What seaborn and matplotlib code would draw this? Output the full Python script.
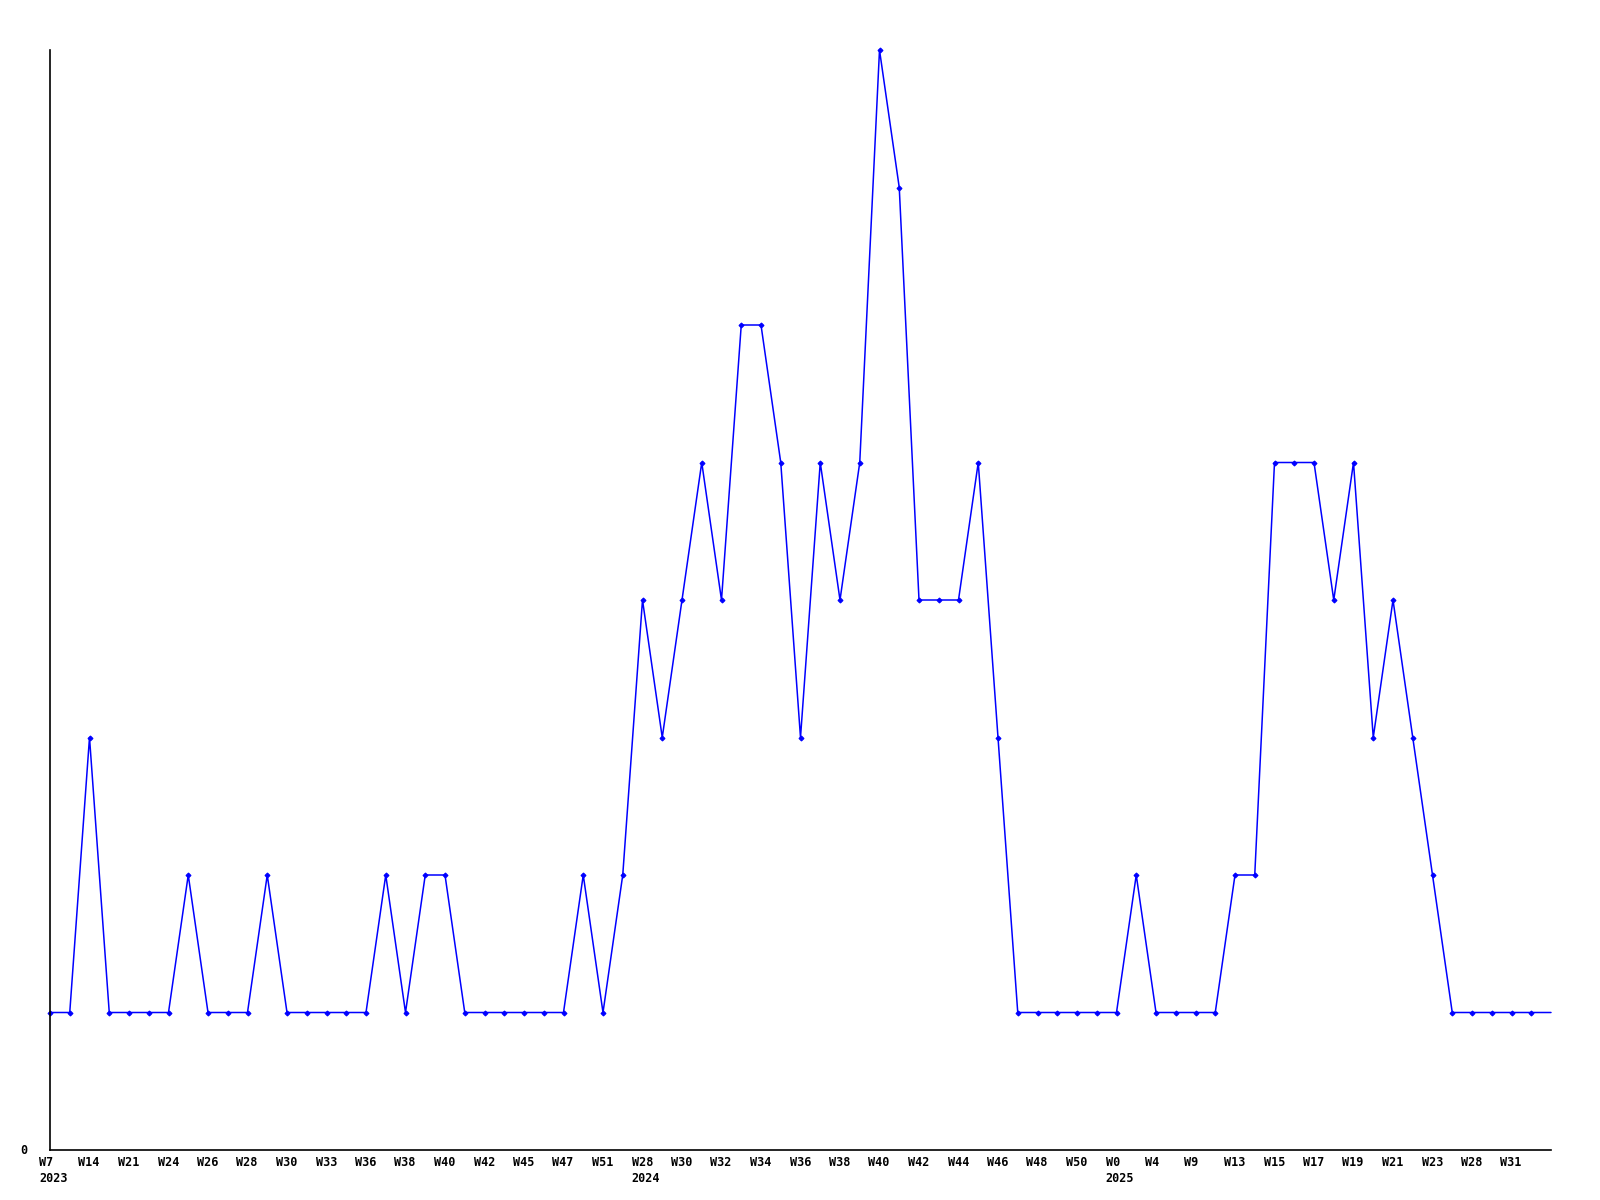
import numpy as np
import pandas as pd
import seaborn as sns
import matplotlib.pyplot as plt

# --- dados: contagem semanal ---
valores = [
    1, 1, 3, 1, 1, 1, 1, 2, 1, 1, 1, 2, 1, 1, 1, 1, 1, 2, 1, 2,
    2, 1, 1, 1, 1, 1, 1, 2, 1, 2, 4, 3, 4, 5, 4, 6, 6, 5, 3, 5,
    4, 5, 8, 7, 4, 4, 4, 5, 3, 1, 1, 1, 1, 1, 1, 2, 1, 1, 1, 1,
    2, 2, 5, 5, 5, 4, 5, 3, 4, 3, 2, 1, 1, 1, 1, 1, 1,
]
semanas_rotulo = [
    "W7", "W14", "W21", "W24", "W26", "W28", "W30", "W33", "W36", "W38",
    "W40", "W42", "W45", "W47", "W51", "W28", "W30", "W32", "W34", "W36",
    "W38", "W40", "W42", "W44", "W46", "W48", "W50", "W0", "W4", "W9",
    "W13", "W15", "W17", "W19", "W21", "W23", "W28", "W31",
]
anos = {0: "2023", 15: "2024", 27: "2025"}  # indice do rotulo -> ano

df = pd.DataFrame({"idx": np.arange(len(valores)), "valor": valores})

sns.set_style("white")
plt.rcParams["font.family"] = ["DejaVu Sans Mono"]

fig = plt.figure(figsize=(16, 12), dpi=100)
ax = fig.add_axes([50 / 1600, 50 / 1200, 1501 / 1600, 1100 / 1200])

sns.lineplot(data=df, x="idx", y="valor", ax=ax, color="#0000ff", linewidth=1.1,
             marker="D", markersize=2.5, markeredgewidth=0.8, markeredgecolor="#0000ff",
             markevery=list(range(len(valores) - 1)), clip_on=False)

ax.set_xlim(0, len(valores) - 1)
ax.set_ylim(0, 8)
ax.set_xlabel("")
ax.set_ylabel("")
ax.set_xticks([])
ax.set_yticks([])
for lado in ["top", "right"]:
    ax.spines[lado].set_visible(False)
for lado in ["left", "bottom"]:
    ax.spines[lado].set_color("black")
    ax.spines[lado].set_linewidth(1.2)

# rotulos do eixo x (a cada 2 semanas), alinhados a esquerda
fonte = dict(fontsize=8.5, fontweight="bold", color="black")
for i, rot in enumerate(semanas_rotulo):
    ax.annotate(rot, xy=(2 * i, 0), xycoords="data", xytext=(-11, -6),
                textcoords="offset pixels", ha="left", va="top", **fonte)
    if i in anos:
        ax.annotate(anos[i], xy=(2 * i, 0), xycoords="data", xytext=(-11, -22),
                    textcoords="offset pixels", ha="left", va="top", **fonte)

ax.annotate("0", xy=(0, 0), xycoords="data", xytext=(-30, 0),
            textcoords="offset pixels", ha="left", va="center", **fonte)

fig.savefig("out.png", dpi=100)
